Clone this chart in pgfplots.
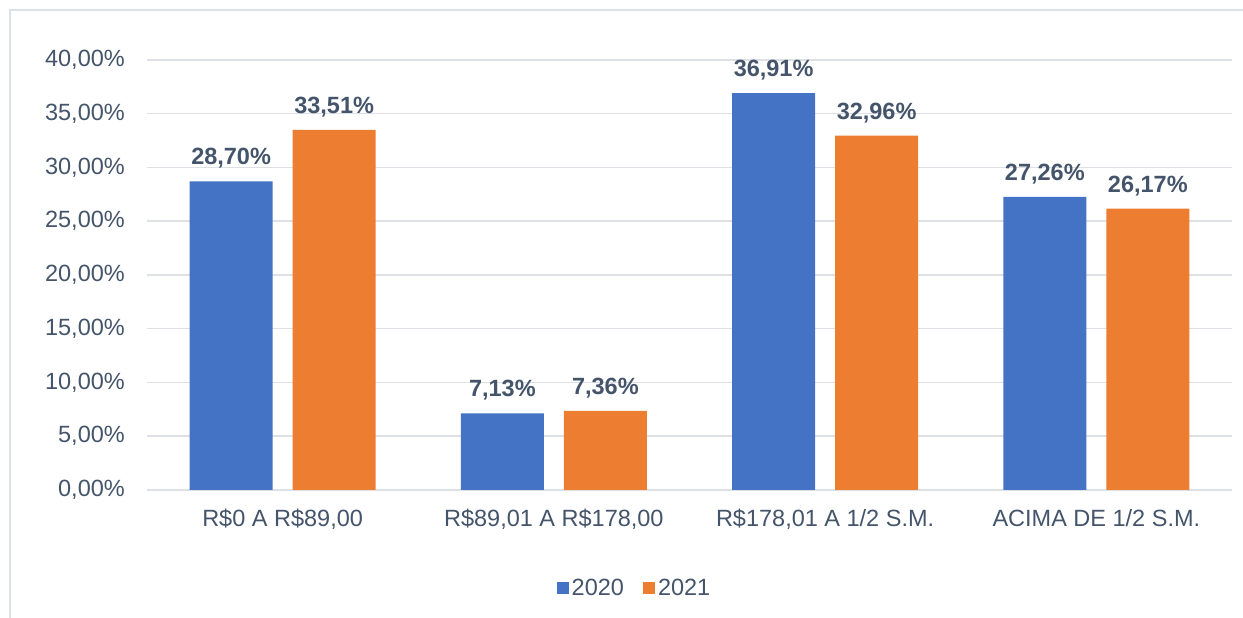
\documentclass[border=0pt]{standalone}
\usepackage{fontspec}
\setmainfont{Liberation Sans}
\usepackage{pgfplots}
\pgfplotsset{compat=1.18}

\definecolor{bblue}{HTML}{4472C4}
\definecolor{borange}{HTML}{ED7D31}
\definecolor{txt}{HTML}{44546A}
\definecolor{gridc}{HTML}{DDE1E6}

\begin{document}
\begin{tikzpicture}
  \useasboundingbox (0,0) rectangle (1243pt,618pt);
  \draw[gridc, line width=2pt] (10pt,0) -- (10pt,608pt) -- (1243pt,608pt);

  \begin{axis}[
    at={(147pt,128pt)}, anchor=south west,
    scale only axis,
    width=1085pt, height=430pt,
    ybar=20pt, bar width=83pt,
    xmin=-0.5, xmax=3.5,
    ymin=0, ymax=40,
    xtick={0,1,2,3},
    xticklabels={R\$0 A R\$89{,}00, R\$89{,}01 A R\$178{,}00, R\$178{,}01 A 1/2 S.M., ACIMA DE 1/2 S.M.},
    ytick={0,5,...,40},
    yticklabels={{0,00\%},{5,00\%},{10,00\%},{15,00\%},{20,00\%},{25,00\%},{30,00\%},{35,00\%},{40,00\%}},
    ymajorgrids, xmajorgrids=false,
    major grid style={gridc, line width=1.5pt},
    axis line style={draw=none},
    major tick length=0pt,
    tick label style={font=\fontsize{23.5pt}{28pt}\selectfont, text=txt},
    xticklabel style={anchor=base, inner sep=0pt, yshift=-37pt},
    yticklabel style={anchor=east, inner sep=0pt, xshift=-22pt},
    clip=false,
    point meta=y,
    nodes near coords={\pgfmathprintnumber[fixed, fixed zerofill, precision=2, use comma, assume math mode=true]{\pgfplotspointmeta}\%},
    every node near coord/.append style={font=\fontsize{23.5pt}{28pt}\selectfont\bfseries, text=txt, anchor=base, inner sep=0pt, yshift=16.5pt},
    legend style={at={(0.4498,-0.228)}, anchor=center, draw=none, fill=none,
      legend columns=2, font=\fontsize{23.5pt}{28pt}\selectfont, text=txt,
      nodes={inner sep=3pt},
      /tikz/every even column/.append style={column sep=16pt}},
    legend image code/.code={\fill[#1] (0pt,-6pt) rectangle (12pt,6pt);},
  ]
    \addplot[fill=bblue, draw=none] coordinates {(0,28.70) (1,7.13) (2,36.91) (3,27.26)};
    \addplot[fill=borange, draw=none] coordinates {(0,33.51) (1,7.36) (2,32.96) (3,26.17)};
    \legend{2020, 2021}
  \end{axis}
\end{tikzpicture}
\end{document}
